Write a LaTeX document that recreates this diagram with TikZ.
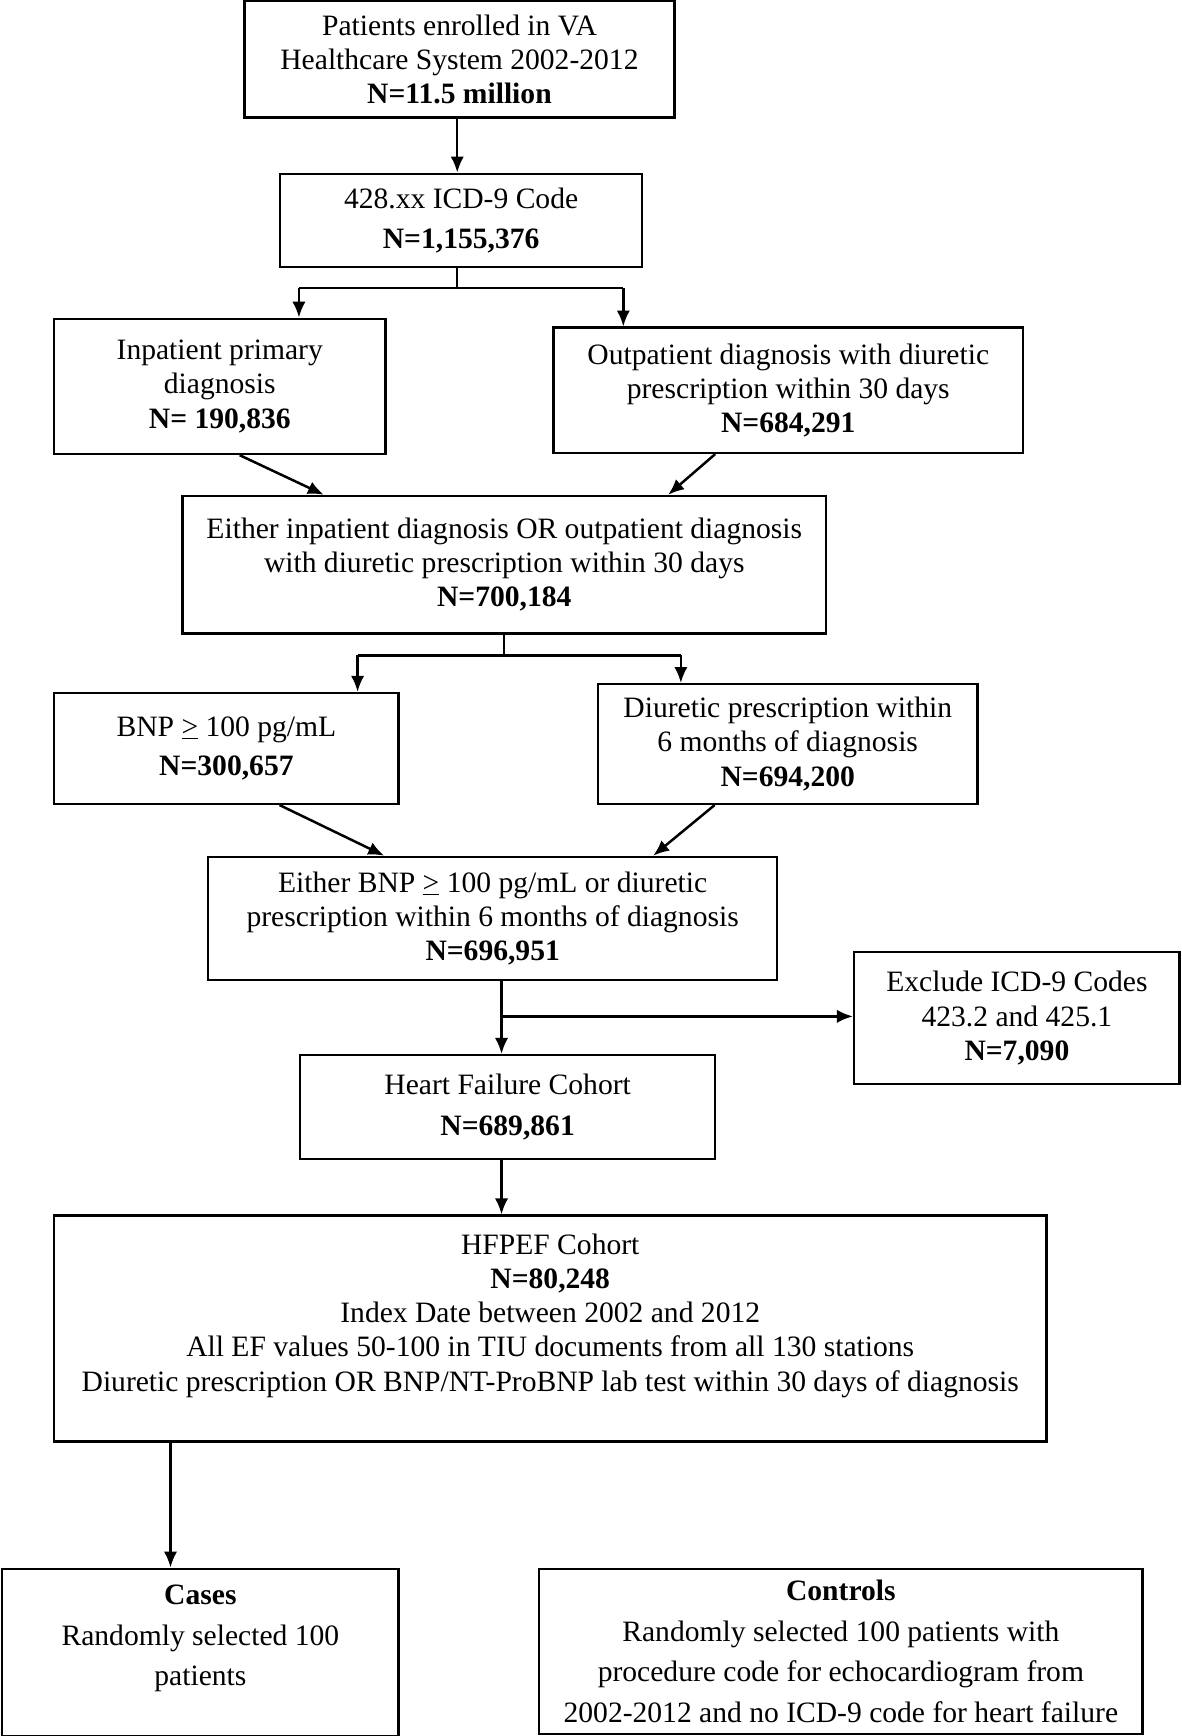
\documentclass[tikz,border=0pt]{standalone}
\usepackage{fontspec}
\setmainfont{Liberation Serif}
\usetikzlibrary{arrows.meta,calc}
\tikzset{
  box/.style={draw,line width=1.6pt,align=center,inner sep=0pt,font=\fontsize{19}{22}\selectfont},
  sz/.style 2 args={minimum width=#1*0.025cm,minimum height=#2*0.025cm},
  ln/.style={line width=1.6pt},
  arr/.style={line width=1.6pt,-{Latex[length=0.36cm,width=0.3cm]}}
}
\begin{document}
\begin{tikzpicture}[x=0.025cm,y=-0.025cm]
	\useasboundingbox (0,0) rectangle (1067,1568);
	\node[box,sz={388}{105}] (top) at (415,53.5) {Patients enrolled in VA\\Healthcare System 2002-2012\\\textbf{N=11.5 million}};
	\node[box,sz={327}{84}] (icd) at (416.5,199) {428.xx ICD-9 Code\\[4pt]\textbf{N=1,155,376}};
	\node[box,sz={299}{122}] (inp) at (198.5,349) {Inpatient primary\\diagnosis\\\textbf{N= 190,836}};
	\node[box,sz={424}{113}] (outp) at (712,352.5) {Outpatient diagnosis with diuretic\\prescription within 30 days\\\textbf{N=684,291}};
	\node[box,sz={581}{124}] (eith1) at (455.5,510) {Either inpatient diagnosis OR outpatient diagnosis\\with diuretic prescription within 30 days\\\textbf{N=700,184}};
	\node[box,sz={311}{100}] (bnp) at (204.5,676) {BNP \underline{>} 100 pg/mL\\[3pt]\textbf{N=300,657}};
	\node[box,sz={343}{108}] (diur) at (711.5,672) {Diuretic prescription within\\6 months of diagnosis\\\textbf{N=694,200}};
	\node[box,sz={514}{111}] (eith2) at (445,829.5) {Either BNP \underline{>} 100 pg/mL or diuretic\\prescription within 6 months of diagnosis\\\textbf{N=696,951}};
	\node[box,sz={294}{119}] (excl) at (918.5,919.5) {Exclude ICD-9 Codes\\423.2 and 425.1\\\textbf{N=7,090}};
	\node[box,sz={375}{94}] (hf) at (458.5,1000) {Heart Failure Cohort\\[4pt]\textbf{N=689,861}};
	\node[box,sz={896}{204}] (hfpef) at (497,1200) {HFPEF Cohort\\\textbf{N=80,248}\\Index Date between 2002 and 2012\\All EF values 50-100 in TIU documents from all 130 stations\\Diuretic prescription OR BNP/NT-ProBNP lab test within 30 days of diagnosis\\[-1pt]\mbox{}};
	\node[box,sz={358}{151}] (cases) at (181,1492.5) {\textbf{Cases}\\[4pt]Randomly selected 100\\[4pt]patients\\\mbox{}};
	\node[box,sz={545}{149}] (ctrl) at (759.5,1491.5) {\textbf{Controls}\\[4pt]Randomly selected 100 patients with\\[4pt]procedure code for echocardiogram from\\[4pt]2002-2012 and no ICD-9 code for heart failure};
	% arrows
	\draw[arr] (top.south -| 413,0) -- (icd.north -| 413,0);
	\coordinate (s1) at (413,260);
	\coordinate (s1l) at (270,260);
	\coordinate (s1r) at (563,260);
	\draw[ln] (icd.south -| s1) -- (s1);
	\draw[ln] (s1l) -- (s1r);
	\draw[arr] (s1l) -- (s1l |- inp.north);
	\draw[arr] (s1r) -- (s1r |- outp.north);
	\draw[arr] ($(inp.south)+(18,0)$) -- ($(eith1.north)+(-163,0)$);
	\draw[arr] ($(outp.south)+(-66,0)$) -- ($(eith1.north)+(148,0)$);
	\coordinate (s2) at (455,592);
	\coordinate (s2l) at (323,592);
	\coordinate (s2r) at (615,592);
	\draw[ln] (eith1.south -| s2) -- (s2);
	\draw[ln] (s2l) -- (s2r);
	\draw[arr] (s2l) -- (s2l |- bnp.north);
	\draw[arr] (s2r) -- (s2r |- diur.north);
	\draw[arr] ($(bnp.south)+(48,0)$) -- ($(eith2.north)+(-98,0)$);
	\draw[arr] ($(diur.south)+(-66,0)$) -- ($(eith2.north)+(145,0)$);
	\coordinate (br) at (453,918);
	\draw[arr] (eith2.south -| br) -- (hf.north -| br);
	\draw[arr] (br) -- (br -| excl.west);
	\draw[arr] (hf.south -| br) -- (hfpef.north -| br);
	\draw[arr] (hfpef.south -| 154,0) -- (cases.north -| 154,0);
\end{tikzpicture}
\end{document}
